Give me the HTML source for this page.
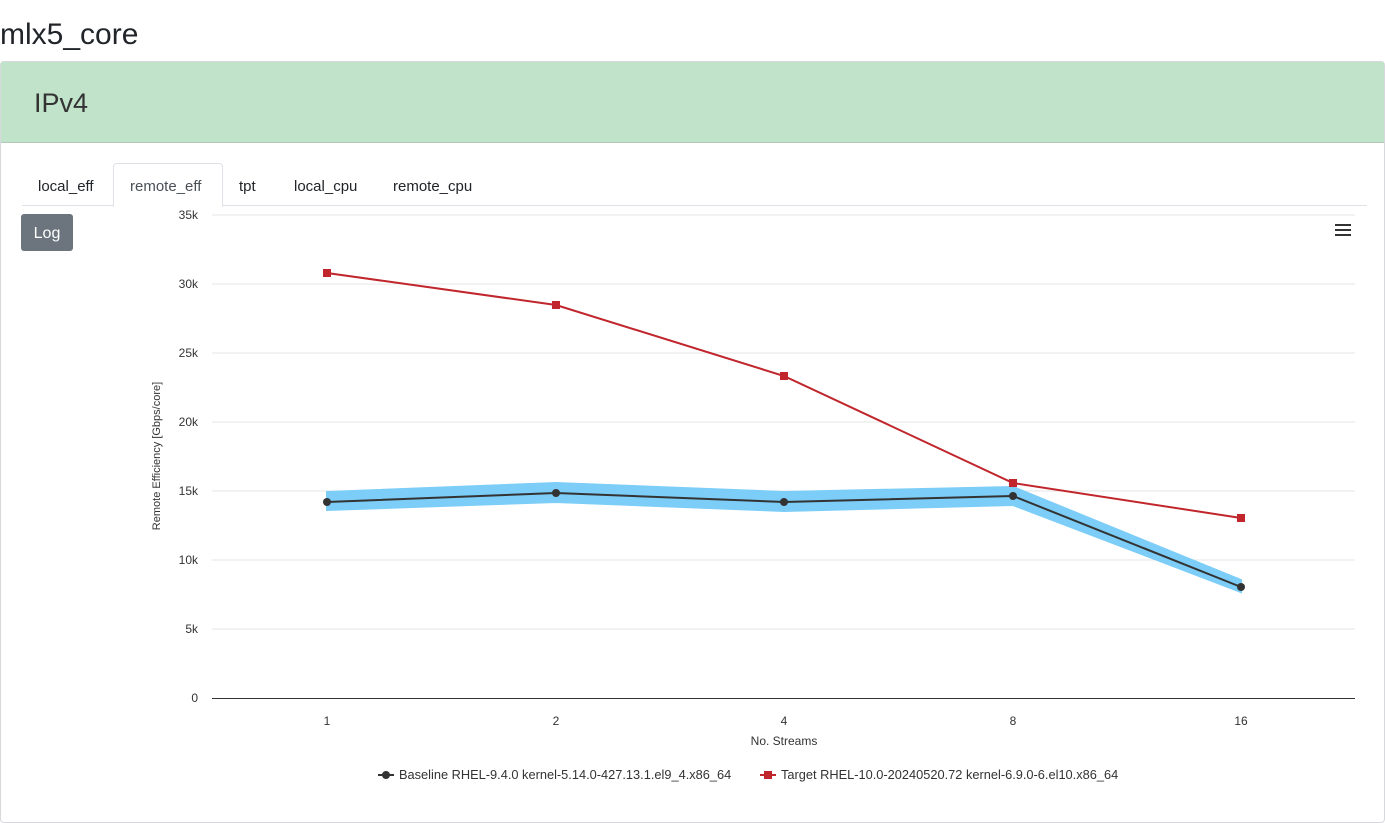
<!DOCTYPE html>
<html><head><style>
body{margin:0;background:#fff;font-family:"Liberation Sans",sans-serif;width:1385px;height:801px;overflow:hidden;position:relative}
h1{position:absolute;left:0;top:18px;margin:0;font-weight:400;font-size:30px;color:#212529}
.card{position:absolute;left:0;top:61px;width:1383px;height:760px;border:1px solid #d6d8db;border-radius:4px}
.hd{height:80px;background:#c0e3c9;border-bottom:1px solid #b3c8b9}
.hd span{position:absolute;left:33px;top:26px;font-size:27px;color:#333}
.tabs{position:absolute;left:21px;top:101px;width:1345px;height:42px;border-bottom:1px solid #dee2e6}
.tab{position:absolute;top:15px;font-size:15px;color:#212529}
.act{position:absolute;left:91px;top:0;width:108px;height:42px;border:1px solid #dee2e6;border-bottom:1px solid #fff;border-radius:4px 4px 0 0;background:#fff}
.log{position:absolute;left:20px;top:152px;width:52px;height:37px;background:#6c757d;border-radius:3px;color:#fff;font-size:16px;text-align:center;line-height:40px}
svg{position:absolute;left:0;top:0}
</style></head><body>
<h1>mlx5_core</h1>
<div class="card"><div class="hd"><span>IPv4</span></div>
<div class="tabs"><div class="act"></div>
<span class="tab" style="left:16px">local_eff</span>
<span class="tab" style="left:108px;color:#495057">remote_eff</span>
<span class="tab" style="left:217px">tpt</span>
<span class="tab" style="left:272px">local_cpu</span>
<span class="tab" style="left:371px">remote_cpu</span></div>
<div class="log">Log</div></div>
<svg width="1385" height="801" font-family="Liberation Sans, sans-serif" font-size="12" fill="#333">
<g stroke="#e6e6e6">
<line x1="212" x2="1355" y1="215" y2="215"/><line x1="212" x2="1355" y1="284" y2="284"/><line x1="212" x2="1355" y1="353" y2="353"/><line x1="212" x2="1355" y1="422" y2="422"/><line x1="212" x2="1355" y1="491" y2="491"/><line x1="212" x2="1355" y1="560" y2="560"/><line x1="212" x2="1355" y1="629" y2="629"/></g>
<line x1="212" x2="1355" y1="698.5" y2="698.5" stroke="#333"/>
<g text-anchor="end"><text x="198" y="219">35k</text><text x="198" y="288">30k</text><text x="198" y="357">25k</text><text x="198" y="426">20k</text><text x="198" y="495">15k</text><text x="198" y="564">10k</text><text x="198" y="633">5k</text><text x="198" y="702">0</text></g>
<g text-anchor="middle"><text x="327" y="725">1</text><text x="556" y="725">2</text><text x="784" y="725">4</text><text x="1013" y="725">8</text><text x="1241" y="725">16</text><text x="784" y="745">No. Streams</text></g>
<text transform="translate(160,456) rotate(-90)" text-anchor="middle" font-size="11">Remote Efficiency [Gbps/core]</text>
<g fill="#333"><rect x="1335" y="224" width="16" height="2"/><rect x="1335" y="229" width="16" height="2"/><rect x="1335" y="234" width="16" height="2"/></g>
<polygon points="327,492 556,483 784,492 1013,487 1241,580 1241,592 1013,505 784,511 556,502 327,510" fill="#7ccdf7" stroke="#7ccdf7" stroke-width="2"/>
<polyline points="327,502 556,493 784,502 1013,496 1241,587" fill="none" stroke="#333" stroke-width="2"/>
<g fill="#333"><circle cx="327" cy="502" r="4"/><circle cx="556" cy="493" r="4"/><circle cx="784" cy="502" r="4"/><circle cx="1013" cy="496" r="4"/><circle cx="1241" cy="587" r="4"/></g>
<polyline points="327,273 556,305 784,376 1013,483 1241,518" fill="none" stroke="#c0262c" stroke-width="2"/>
<g fill="#c0262c"><rect x="323" y="269" width="8" height="8"/><rect x="552" y="301" width="8" height="8"/><rect x="780" y="372" width="8" height="8"/><rect x="1009" y="479" width="8" height="8"/><rect x="1237" y="514" width="8" height="8"/></g>
<line x1="378" x2="394" y1="775" y2="775" stroke="#333" stroke-width="2"/><circle cx="386" cy="775" r="4" fill="#333"/>
<text x="399" y="779" font-size="12.8">Baseline RHEL-9.4.0 kernel-5.14.0-427.13.1.el9_4.x86_64</text>
<line x1="760" x2="776" y1="775" y2="775" stroke="#c0262c" stroke-width="2"/><rect x="764" y="771" width="8" height="8" fill="#c0262c"/>
<text x="781" y="779" font-size="12.8">Target RHEL-10.0-20240520.72 kernel-6.9.0-6.el10.x86_64</text>
</svg>
</body></html>
